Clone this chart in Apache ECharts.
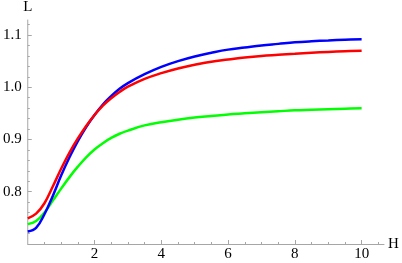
<!DOCTYPE html>
<html>
<head>
<meta charset="utf-8">
<script src="https://cdn.jsdelivr.net/npm/echarts@6/dist/echarts.min.js"></script>
<style>
html,body{margin:0;padding:0;background:#fff;}
#chart{width:402px;height:263px;}
</style>
</head>
<body>
<div id="chart"></div>
<script>
// H values (x axis)
var hValues = [0, 0.25, 0.5, 0.75, 1, 1.25, 1.5, 1.75, 2, 2.25, 2.5, 2.75, 3, 3.5, 4, 4.5, 5, 5.5, 6, 6.5, 7, 7.5, 8, 8.5, 9, 9.5, 10];
// L values for each curve
var blueL  = [0.724, 0.731, 0.757, 0.792, 0.831, 0.866, 0.897, 0.924, 0.947, 0.967, 0.983, 0.997, 1.008, 1.025, 1.039, 1.050, 1.059, 1.066, 1.072, 1.076, 1.080, 1.083, 1.086, 1.088, 1.0895, 1.091, 1.092];
var redL   = [0.749, 0.758, 0.778, 0.810, 0.844, 0.875, 0.902, 0.926, 0.947, 0.965, 0.979, 0.991, 1.001, 1.016, 1.027, 1.036, 1.043, 1.049, 1.053, 1.057, 1.060, 1.062, 1.064, 1.066, 1.0675, 1.0688, 1.0698];
var greenL = [0.738, 0.744, 0.760, 0.783, 0.806, 0.828, 0.848, 0.866, 0.881, 0.893, 0.903, 0.911, 0.917, 0.927, 0.933, 0.938, 0.942, 0.945, 0.948, 0.950, 0.952, 0.954, 0.956, 0.957, 0.958, 0.959, 0.960];
// tick labels
var xTickValues = [2, 4, 6, 8, 10];
var yTickValues = [0.8, 0.9, 1.0, 1.1];

var xMinor = [];
for (var i = 1; i <= 21; i++) { var v = i * 0.5; if (xTickValues.indexOf(v) < 0) xMinor.push(v); }
var yMinor = [];
for (var j = 1; j <= 21; j++) {
  var w = Math.round((0.7 + j * 0.02) * 1000) / 1000;
  var isMajor = yTickValues.some(function (t) { return Math.abs(t - w) < 1e-6; });
  if (w < 1.128 && !isMajor) yMinor.push(w);
}

function pairs(ys) { return hValues.map(function (h, k) { return [h, ys[k]]; }); }

var axisColor = '#a6a6a6';

var chart = echarts.init(document.getElementById('chart'), null, { renderer: 'canvas' });
chart.setOption({
  animation: false,
  backgroundColor: '#fff',
  grid: { left: 23.5, right: 18, top: 20, bottom: 19, containLabel: false },
  xAxis: [{
    type: 'value', min: 0, max: 10.67, interval: 2,
    name: 'H', nameLocation: 'end', nameGap: 4,
    nameTextStyle: { fontFamily: 'Liberation Serif', fontSize: 15, color: '#000', verticalAlign: 'middle' },
    axisLine: { show: true, onZero: false, lineStyle: { color: axisColor, width: 1 } },
    axisTick: { show: true, inside: true, length: 4, customValues: xTickValues, lineStyle: { color: axisColor } },
    axisLabel: { show: true, customValues: xTickValues, margin: 3, formatter: function (v) { return String(v); },
      fontFamily: 'Liberation Serif', fontSize: 15, color: '#000' },
    splitLine: { show: false }
  }, {
    type: 'value', min: 0, max: 10.67, position: 'bottom',
    axisLine: { show: false },
    axisTick: { show: true, inside: true, length: 2, customValues: xMinor, lineStyle: { color: axisColor } },
    axisLabel: { show: false },
    splitLine: { show: false }
  }],
  yAxis: [{
    type: 'value', min: 0.7, max: 1.1287, interval: 0.1, position: 'left',
    name: 'L', nameLocation: 'end', nameGap: 5,
    nameTextStyle: { fontFamily: 'Liberation Serif', fontSize: 15, color: '#000' },
    axisLine: { show: true, onZero: false, lineStyle: { color: axisColor, width: 1 } },
    axisTick: { show: true, inside: true, length: 4, customValues: yTickValues, lineStyle: { color: axisColor } },
    axisLabel: { show: true, customValues: yTickValues, margin: 6, formatter: function (v) { return v.toFixed(1); },
      fontFamily: 'Liberation Serif', fontSize: 15, color: '#000' },
    splitLine: { show: false }
  }, {
    type: 'value', min: 0.7, max: 1.1287, position: 'left',
    axisLine: { show: false },
    axisTick: { show: true, inside: true, length: 2, customValues: yMinor, lineStyle: { color: axisColor } },
    axisLabel: { show: false },
    splitLine: { show: false }
  }],
  series: [
    { type: 'line', data: pairs(greenL), smooth: 0.4, showSymbol: false, lineStyle: { color: '#00ff00', width: 2.5 }, z: 3 },
    { type: 'line', data: pairs(blueL), smooth: 0.4, showSymbol: false, lineStyle: { color: '#0000ff', width: 2.5 }, z: 4 },
    { type: 'line', data: pairs(redL), smooth: 0.4, showSymbol: false, lineStyle: { color: '#ff0000', width: 2.5 }, z: 5 }
  ]
});
</script>
</body>
</html>
